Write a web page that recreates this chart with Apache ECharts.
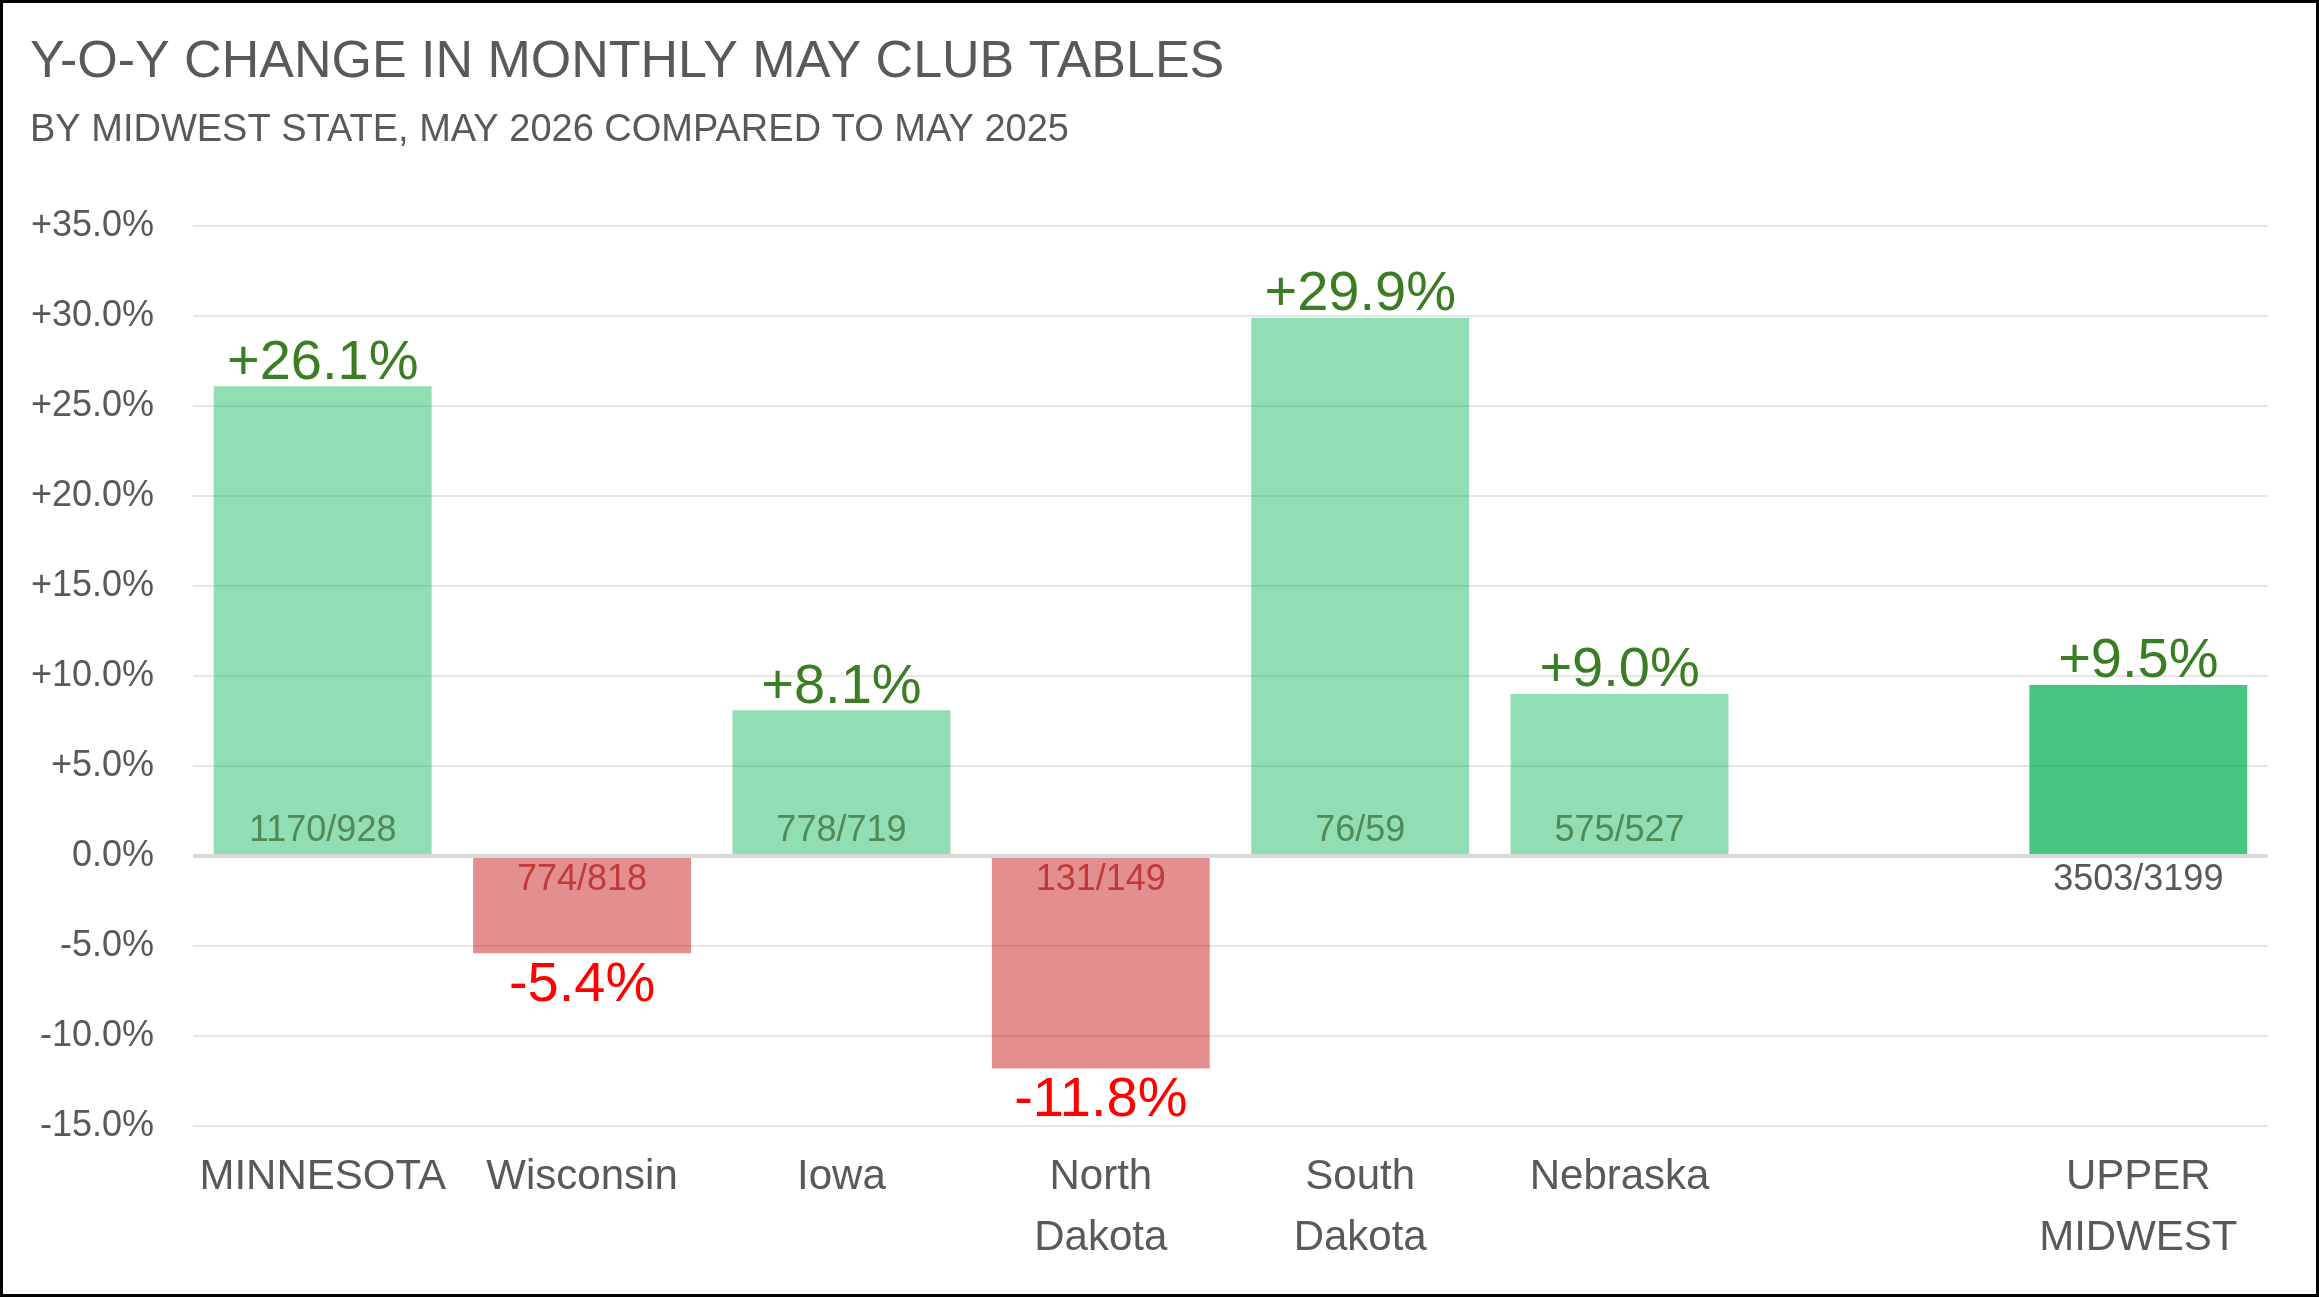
<!DOCTYPE html>
<html>
<head>
<meta charset="utf-8">
<title>Y-O-Y change in monthly May club tables</title>
<script src="https://cdn.jsdelivr.net/npm/echarts@6/dist/echarts.min.js"></script>
<style>
  html, body { margin: 0; padding: 0; background: #fff; }
  #chart { width: 2319px; height: 1297px; }
</style>
</head>
<body>
<div id="chart"></div>
<script>
// data
var states = ['MINNESOTA', 'Wisconsin', 'Iowa', 'North\nDakota', 'South\nDakota', 'Nebraska', '', 'UPPER\nMIDWEST'];
var yoyChange = [26.1, -5.4, 8.1, -11.8, 29.9, 9.0, null, 9.5];
var tables2026 = [1170, 774, 778, 131, 76, 575, null, 3503];
var tables2025 = [928, 818, 719, 149, 59, 527, null, 3199];
var isTotal = [false, false, false, false, false, false, false, true];

var yTicks = { min: -15, max: 35, step: 5 };

var GRAY = '#595959';
var SANS = "'Liberation Sans', Arial, sans-serif";

function pct(v) {
  return (v > 0 ? '+' : '') + v.toFixed(1) + '%';
}

// main bars, with the % label above (or below) the bar end
var barData = yoyChange.map(function (v, i) {
  if (v == null) return null;
  var up = v >= 0;
  return {
    value: v,
    itemStyle: {
      color: isTotal[i] ? 'rgba(0,176,80,0.73)' : (up ? 'rgba(0,176,80,0.43)' : 'rgba(192,0,0,0.44)')
    },
    label: {
      position: up ? 'top' : 'bottom',
      distance: up ? -5 : 4,
      color: up ? '#3B7D23' : '#FF0000'
    }
  };
});

// same bars again, invisible, only to carry the "now/before" counts at the zero line
var countData = yoyChange.map(function (v, i) {
  if (v == null) return null;
  var up = v >= 0;
  var pos, color, dist;
  if (isTotal[i]) { pos = 'bottom'; color = GRAY; dist = 6; }
  else if (up) { pos = 'insideBottom'; color = '#508A55'; dist = 7; }
  else { pos = 'insideTop'; color = '#C0393B'; dist = 6; }
  return {
    value: v,
    label: { position: pos, color: color, distance: dist }
  };
});

var chart = echarts.init(document.getElementById('chart'));

chart.setOption({
  backgroundColor: '#fff',
  animation: false,
  title: [{
    text: 'Y-O-Y CHANGE IN MONTHLY MAY CLUB TABLES',
    left: 25,
    top: 32,
    textStyle: { fontFamily: SANS, fontSize: 52, fontWeight: 'normal', color: GRAY }
  }, {
    text: 'BY MIDWEST STATE, MAY 2026 COMPARED TO MAY 2025',
    left: 25,
    top: 107,
    textStyle: { fontFamily: SANS, fontSize: 38, fontWeight: 'normal', color: GRAY }
  }],
  graphic: [{
    type: 'rect',
    shape: { x: 1.5, y: 1.5, width: 2316, height: 1294 },
    style: { fill: 'none', stroke: '#000', lineWidth: 3 },
    silent: true
  }],
  grid: { left: 193, right: 51, top: 226, bottom: 171 },
  xAxis: {
    type: 'category',
    data: states,
    axisLine: { show: false, onZero: false },
    axisTick: { show: false },
    axisLabel: {
      interval: 0,
      margin: 21,
      fontFamily: SANS,
      fontSize: 42,
      lineHeight: 61,
      color: GRAY,
      verticalAlign: 'top'
    }
  },
  yAxis: {
    type: 'value',
    min: yTicks.min,
    max: yTicks.max,
    interval: yTicks.step,
    axisLine: { show: false },
    axisTick: { show: false },
    splitLine: { lineStyle: { color: '#E6E6E6', width: 2 } },
    axisLabel: {
      margin: 39,
      fontFamily: SANS,
      fontSize: 36,
      color: GRAY,
      formatter: pct
    }
  },
  series: [{
    name: 'change',
    type: 'bar',
    data: barData,
    barCategoryGap: '16%',
    barGap: '-100%',
    label: {
      show: true,
      fontFamily: SANS,
      fontSize: 56,
      formatter: function (p) { return pct(p.value); }
    },
    markLine: {
      silent: true,
      symbol: 'none',
      label: { show: false },
      lineStyle: { color: '#D9D9D9', width: 4, type: 'solid' },
      data: [{ yAxis: 0 }]
    }
  }, {
    name: 'counts',
    type: 'bar',
    data: countData,
    barCategoryGap: '16%',
    barGap: '-100%',
    itemStyle: { color: 'rgba(0,0,0,0)' },
    label: {
      show: true,
      fontFamily: SANS,
      fontSize: 36,
      formatter: function (p) {
        return tables2026[p.dataIndex] + '/' + tables2025[p.dataIndex];
      }
    }
  }]
});
</script>
</body>
</html>
